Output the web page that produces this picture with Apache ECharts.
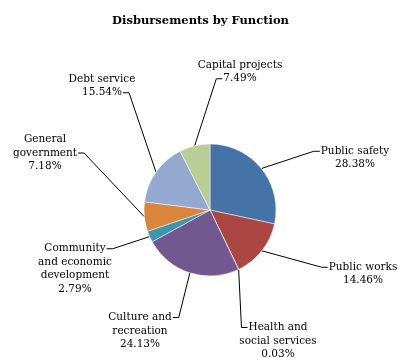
<!DOCTYPE html>
<html><head><meta charset="utf-8">
<script src="https://cdn.jsdelivr.net/npm/echarts@6/dist/echarts.min.js"></script>
<style>html,body{margin:0;padding:0;background:#fff}#c{width:401px;height:358px}</style>
</head><body><div id="c"></div>
<script>
var categories = ['Public safety','Public works','Health and social services','Culture and recreation','Community and economic development','General government','Debt service','Capital projects'];
var labelTexts = ['Public safety','Public works','Health and\nsocial services','Culture and\nrecreation','Community\nand economic\ndevelopment','General\ngovernment','Debt service','Capital projects'];
var values = [28.38, 14.46, 0.03, 24.13, 2.79, 7.18, 15.54, 7.49];
var colors = ['#4572A7','#AA4643','#89A54E','#71588F','#3D96AE','#DB843D','#94A9CF','#BACD96'];
var labelPos = [[355,158],[363,274],[278,341],[140,331],[75,269],[45,153],[102,86],[240,72]];
var anchorSide = ['left','left','left','right','right','right','right','left'];
var anchorLine = [0,0,0,0,0,1,1,1];

var FONT_SIZE = 10.5, LINE_H = 13.5, FONT = 'DejaVu Serif';
var mctx = document.createElement('canvas').getContext('2d');
mctx.font = FONT_SIZE + 'px "' + FONT + '"';
function fullText(i){ return labelTexts[i] + '\n' + values[i].toFixed(2) + '%'; }

var chart = echarts.init(document.getElementById('c'), null, {renderer:'canvas'});
chart.setOption({
  animation:false,
  title:{text:'Disbursements by Function',left:'center',top:10,
    textStyle:{fontFamily:FONT,fontWeight:'bold',fontSize:11.5,color:'#000'}},
  series:[{
    type:'pie',
    center:[210,210],
    radius:66,
    startAngle:90,
    clockwise:true,
    avoidLabelOverlap:false,
    itemStyle:{borderColor:'#fff',borderWidth:0.5},
    label:{show:true,fontFamily:FONT,fontSize:FONT_SIZE,color:'#000',lineHeight:LINE_H,align:'center',
      formatter:function(p){return fullText(p.dataIndex);}},
    labelLine:{show:true,length:15,length2:8,lineStyle:{color:'#000',width:1}},
    labelLayout:function(p){
      var i = p.dataIndex, q = labelPos[i];
      var lines = fullText(i).split('\n');
      var k = anchorLine[i];
      var w = mctx.measureText(lines[k]).width;
      var top = q[1] - lines.length*LINE_H/2;
      var ly = top + LINE_H*(k+0.5);
      var sgn = anchorSide[i]==='left' ? -1 : 1;
      var ex = q[0] + sgn*(w/2 + 1);
      var tx = ex + sgn*6;
      var pt0 = p.labelLinePoints ? p.labelLinePoints[0] : [210,210];
      return {x:q[0],y:q[1],align:'center',verticalAlign:'middle',
        labelLinePoints:[pt0,[tx,ly],[ex,ly]]};
    },
    data:categories.map(function(c,i){return {name:c,value:values[i],itemStyle:{color:colors[i]}};})
  }]
});
</script></body></html>
